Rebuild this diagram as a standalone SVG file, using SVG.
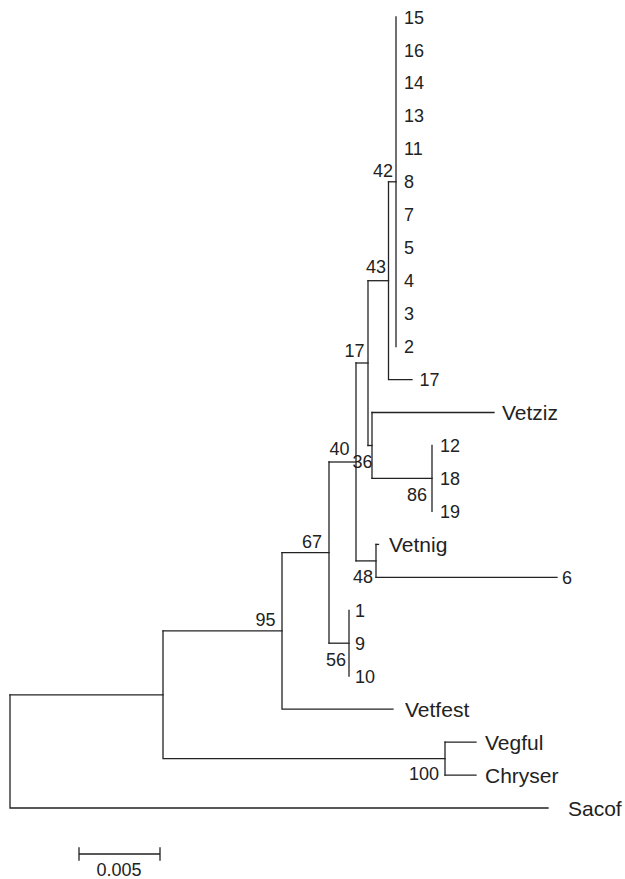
<svg xmlns="http://www.w3.org/2000/svg" width="625" height="879" viewBox="0 0 625 879">
<style>
.e{stroke:#222;stroke-width:1.3;fill:none;stroke-linecap:square}
.n{font-family:"Liberation Sans",Arial,sans-serif;font-size:18px;fill:#222}
.s{font-family:"Liberation Sans",Arial,sans-serif;font-size:21px;fill:#222}
.b{font-family:"Liberation Sans",Arial,sans-serif;font-size:18px;fill:#222;text-anchor:end}
</style>
<rect width="625" height="879" fill="#fff"/>
<g id="connectors">
<!-- clade of 15..2 -->
<path class="e" d="M396,17 V346.6"/>
<path class="e" d="M388.5,181.8 H396"/>
<!-- node 42 -->
<path class="e" d="M388.5,181.8 V379.6 H412"/>
<!-- node 43 -->
<path class="e" d="M368,280.7 H388.5"/>
<path class="e" d="M368,280.7 V445.5"/>
<!-- node 36 -->
<path class="e" d="M368,445.5 H372"/>
<path class="e" d="M372,412.5 V478.4"/>
<path class="e" d="M372,412.5 H494"/>
<!-- node 86 -->
<path class="e" d="M372,478.4 H432"/>
<path class="e" d="M432,445.5 V511.4"/>
<!-- node 17 -->
<path class="e" d="M356,363 H368"/>
<path class="e" d="M356,363 V560.9"/>
<!-- node 48 -->
<path class="e" d="M356,560.9 H376"/>
<path class="e" d="M376,544.4 V577.3"/>
<path class="e" d="M376,544.4 H378.5"/>
<path class="e" d="M376,577.3 H557"/>
<!-- node 40 -->
<path class="e" d="M329,462 H356"/>
<path class="e" d="M329,462 V643.2"/>
<!-- node 56 -->
<path class="e" d="M329,643.2 H349"/>
<path class="e" d="M349,610.3 V676.2"/>
<!-- node 67 -->
<path class="e" d="M282,552.6 H329"/>
<path class="e" d="M282,552.6 V709.2 H393"/>
<!-- node 95 -->
<path class="e" d="M163,630.9 H282"/>
<path class="e" d="M163,630.9 V758.6 H445"/>
<!-- node 100 -->
<path class="e" d="M445,742.1 V775.1"/>
<path class="e" d="M445,742.1 H476"/>
<path class="e" d="M445,775.1 H476"/>
<!-- root -->
<path class="e" d="M10,694.8 H163"/>
<path class="e" d="M10,694.8 V808 H548"/>
</g>
<g id="leaves">
<g id="leaf-15"><text class="n" x="404" y="23.5">15</text></g>
<g id="leaf-16"><text class="n" x="404" y="56.5">16</text></g>
<g id="leaf-14"><text class="n" x="404" y="89.4">14</text></g>
<g id="leaf-13"><text class="n" x="404" y="122.4">13</text></g>
<g id="leaf-11"><text class="n" x="404" y="155.3">11</text></g>
<g id="leaf-8"><text class="n" x="404" y="188.3">8</text></g>
<g id="leaf-7"><text class="n" x="404" y="221.3">7</text></g>
<g id="leaf-5"><text class="n" x="404" y="254.2">5</text></g>
<g id="leaf-4"><text class="n" x="404" y="287.2">4</text></g>
<g id="leaf-3"><text class="n" x="404" y="320.1">3</text></g>
<g id="leaf-2"><text class="n" x="404" y="353.1">2</text></g>
<g id="leaf-17"><text class="n" x="419.5" y="386.1">17</text></g>
<g id="leaf-Vetziz"><text class="s" x="502" y="420">Vetziz</text></g>
<g id="leaf-12"><text class="n" x="440" y="452">12</text></g>
<g id="leaf-18"><text class="n" x="440" y="484.9">18</text></g>
<g id="leaf-19"><text class="n" x="440" y="517.9">19</text></g>
<g id="leaf-Vetnig"><text class="s" x="389" y="551.9">Vetnig</text></g>
<g id="leaf-6"><text class="n" x="562" y="583.8">6</text></g>
<g id="leaf-1"><text class="n" x="355" y="616.8">1</text></g>
<g id="leaf-9"><text class="n" x="355" y="649.7">9</text></g>
<g id="leaf-10"><text class="n" x="355" y="682.7">10</text></g>
<g id="leaf-Vetfest"><text class="s" x="405" y="716.7">Vetfest</text></g>
<g id="leaf-Vegful"><text class="s" x="485" y="749.6">Vegful</text></g>
<g id="leaf-Chryser"><text class="s" x="485" y="782.6">Chryser</text></g>
<g id="leaf-Sacof"><text class="s" x="568" y="815.5">Sacof</text></g>
</g>
<g id="bootstrap">
<g id="node-42"><text class="b" x="393" y="177">42</text></g>
<g id="node-43"><text class="b" x="386" y="273">43</text></g>
<g id="node-17"><text class="b" x="364.5" y="357">17</text></g>
<g id="node-40"><text class="b" x="349.5" y="455">40</text></g>
<g id="node-36"><text class="b" x="372.5" y="468">36</text></g>
<g id="node-86"><text class="b" x="427" y="501">86</text></g>
<g id="node-48"><text class="b" x="373" y="583">48</text></g>
<g id="node-67"><text class="b" x="322" y="548">67</text></g>
<g id="node-56"><text class="b" x="346" y="666">56</text></g>
<g id="node-95"><text class="b" x="275.5" y="626">95</text></g>
<g id="node-100"><text class="b" x="439" y="780">100</text></g>
</g>
<g id="scale-bar">
<path class="e" d="M79,854 H160 M79,848 V860 M160,848 V860"/>
<text class="n" x="119" y="876" text-anchor="middle">0.005</text>
</g>
</svg>
